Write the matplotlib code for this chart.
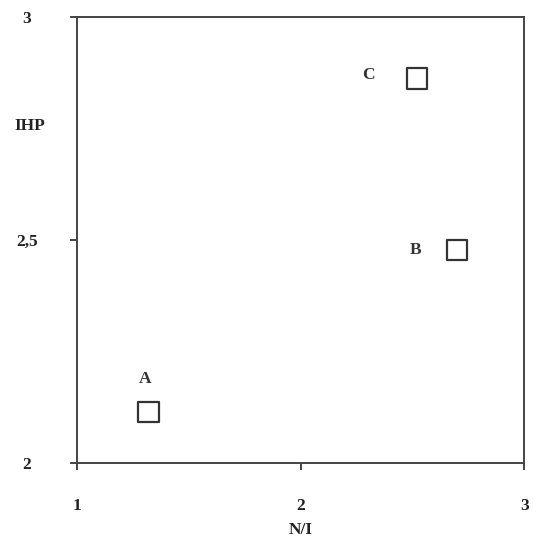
import matplotlib
matplotlib.use("Agg")
from matplotlib import pyplot as plt

plt.rcParams['font.family'] = ['Liberation Serif', 'DejaVu Serif']

labels = ['A', 'B', 'C']
ni = [1.32, 2.70, 2.52]
ihp = [2.114, 2.478, 2.863]
# label offsets in pixels (dx, dy)
offsets = [(-3, 33), (-42, 0), (-48, 3)]


def main():
    fig = plt.figure(figsize=(5.33, 5.55), dpi=100)
    ax = fig.add_axes([0.1445, 0.166, 0.839, 0.803])

    ax.scatter(ni, ihp, marker='s', s=220, facecolors='none',
               edgecolors='#333333', linewidths=1.6, zorder=3)
    for lab, x, y, (dx, dy) in zip(labels, ni, ihp, offsets):
        ax.annotate(lab, (x, y), xytext=(dx * 0.72, dy * 0.72),
                    textcoords='offset points', ha='center', va='center',
                    fontsize=12.5, fontweight='bold', color='#333333')

    ax.set_xlim(1, 3)
    ax.set_ylim(2, 3)
    ax.set_xticks([1, 2, 3])
    ax.set_xticklabels(['1', '2', '3'])
    ax.set_yticks([2, 2.5, 3])
    ax.set_yticklabels(['2', '2,5', '3'])

    for sp in ax.spines.values():
        sp.set_color('#444444')
        sp.set_linewidth(1.4)
    ax.tick_params(axis='both', colors='#444444', labelcolor='#222222',
                   labelsize=12.5, width=1.4, length=5)
    ax.tick_params(axis='y', pad=31)
    ax.tick_params(axis='x', pad=20)
    for t in ax.get_xticklabels():
        t.set_fontweight('bold')
    for t in ax.get_yticklabels():
        t.set_fontweight('bold')
        t.set_horizontalalignment('center')

    ax.set_xlabel('N/I', fontsize=12.5, fontweight='bold', color='#222222',
                  labelpad=6)
    ax.text(-0.105, 0.755, 'IHP', transform=ax.transAxes, fontsize=12.5,
            fontweight='bold', color='#222222', ha='center', va='center')

    fig.savefig('out.png', dpi=100)


if __name__ == "__main__":
    main()
